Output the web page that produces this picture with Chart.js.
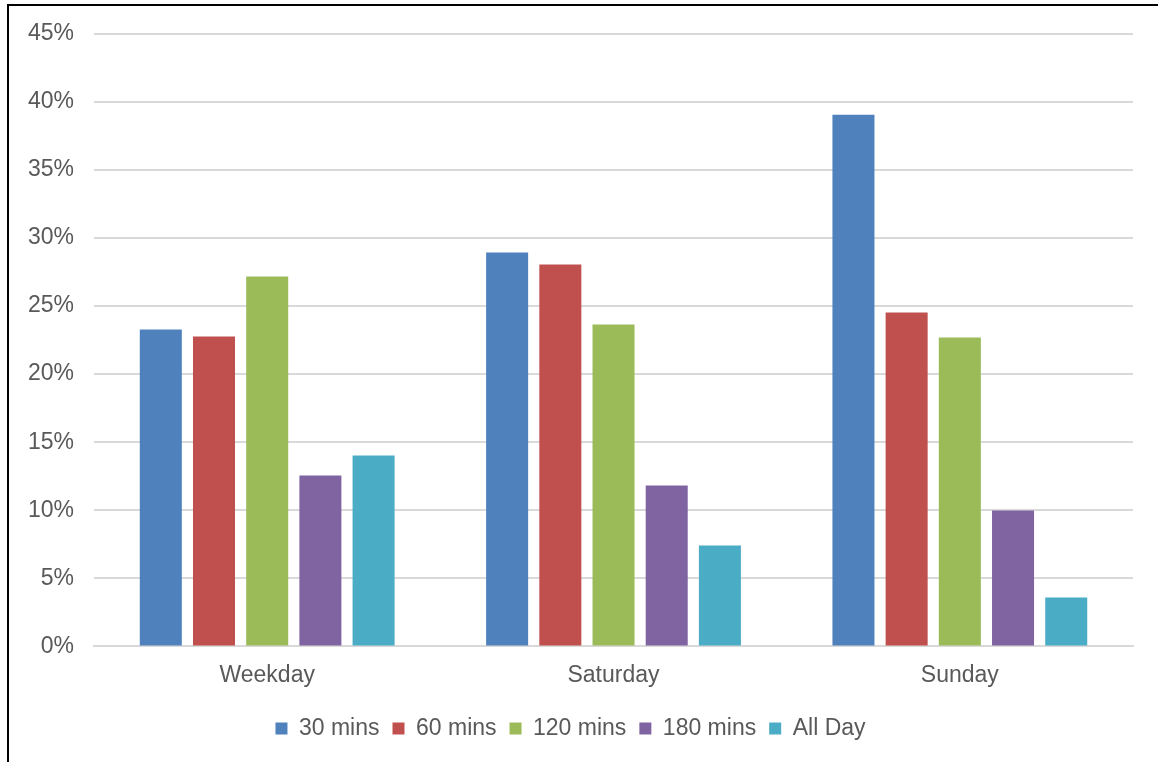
<!DOCTYPE html>
<html>
<head>
<meta charset="utf-8">
<script src="https://cdn.jsdelivr.net/npm/chart.js@4/dist/chart.umd.min.js"></script>
<style>
  html, body { margin: 0; padding: 0; background: #fff; overflow: hidden; }
  #frame {
    position: absolute; left: 7px; top: 4px; width: 1200px; height: 800px;
    border-left: 2px solid #000; border-top: 2px solid #000;
  }
  #wrap { position: absolute; left: 0; top: 0; width: 1158px; height: 762px; }
</style>
</head>
<body>
<div id="frame"></div>
<div id="wrap"><canvas id="chart"></canvas></div>
<script>
// categories + series (fractions)
const categories = ["Weekday", "Saturday", "Sunday"];
const seriesNames = ["30 mins", "60 mins", "120 mins", "180 mins", "All Day"];
const mins30 = [0.2327, 0.2893, 0.3906];
const mins60 = [0.2276, 0.2805, 0.2452];
const mins120 = [0.2717, 0.2364, 0.2269];
const mins180 = [0.1256, 0.1182, 0.0999];
const allDay = [0.1402, 0.0742, 0.0360];
const colors = ["#4F81BD", "#C0504D", "#9BBB59", "#8064A2", "#4BACC6"];

const values = [mins30, mins60, mins120, mins180, allDay];
const textColor = "#595959";
const font = { family: "'Liberation Sans', Arial, sans-serif", size: 23 };

const ctx = document.getElementById("chart").getContext("2d");
new Chart(ctx, {
    type: "bar",
    data: {
        labels: categories,
        datasets: values.map((data, i) => ({
            label: seriesNames[i],
            data,
            backgroundColor: colors[i],
            borderWidth: 0,
            barPercentage: 0.79,
            categoryPercentage: 0.768
        }))
    },
    options: {
        responsive: true,
        maintainAspectRatio: false,
        animation: false,
        layout: { padding: { left: 8, right: 25, top: 23, bottom: 12 } },
        plugins: {
            tooltip: { enabled: false },
            legend: {
                position: "bottom",
                labels: {
                    color: textColor,
                    font,
                    boxWidth: 12,
                    boxHeight: 12,
                    padding: 13
                }
            }
        },
        scales: {
            x: {
                grid: { display: false, drawTicks: false },
                border: { display: true, color: "#d9d9d9", width: 2 },
                ticks: { color: textColor, font, padding: 15 }
            },
            y: {
                min: 0,
                max: 0.45,
                grid: { color: "#d9d9d9", lineWidth: 2, drawTicks: false },
                border: { display: false },
                ticks: {
                    stepSize: 0.05,
                    color: textColor,
                    font,
                    padding: 20,
                    callback: v => Math.round(v * 100) + "%"
                }
            }
        }
    }
});
</script>
</body>
</html>
